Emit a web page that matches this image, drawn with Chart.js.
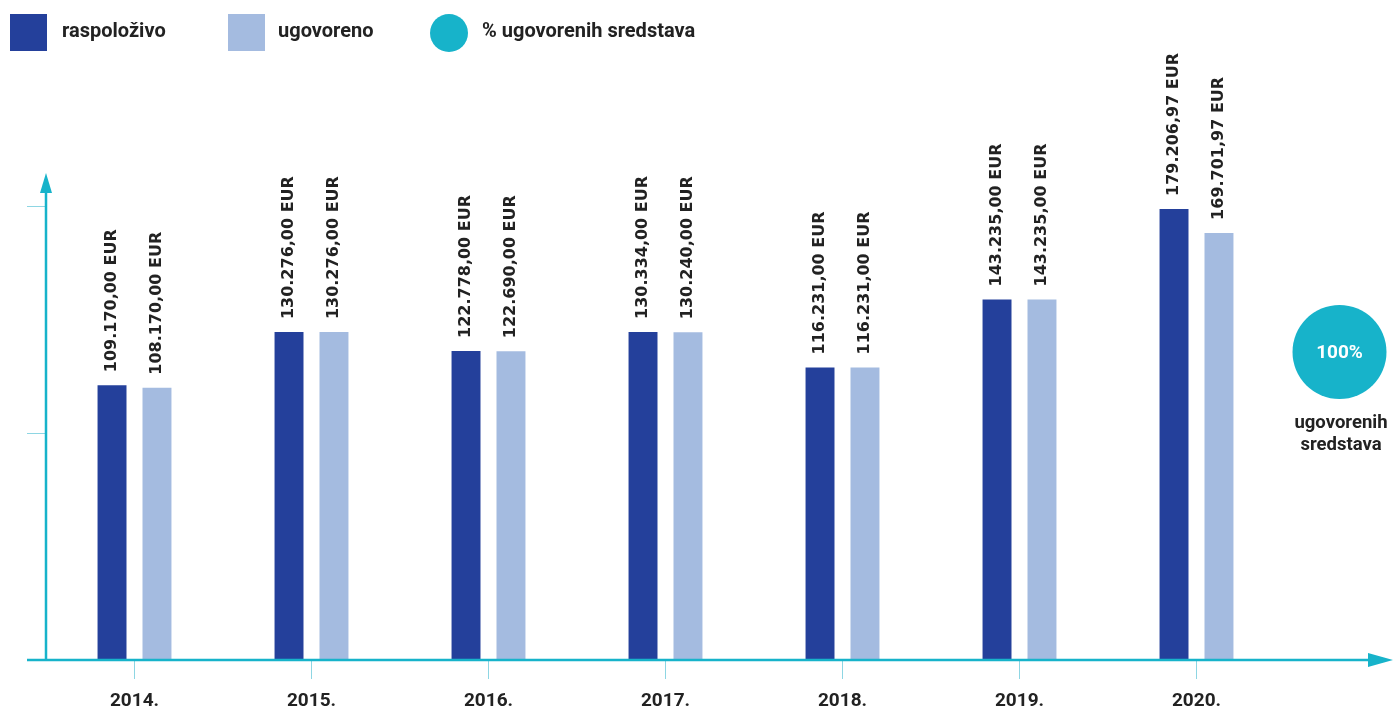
<!DOCTYPE html>
<html><head><meta charset="utf-8">
<script src="https://cdn.jsdelivr.net/npm/chart.js@4.4.0/dist/chart.umd.min.js"></script>
<style>html,body{margin:0;padding:0;background:#fff;}#wrap{width:1393px;height:708px;position:relative}</style>
</head><body><div id="wrap"><canvas id="c" width="1393" height="708"></canvas></div>
<script>
const categories = ['2014.', '2015.', '2016.', '2017.', '2018.', '2019.', '2020.'];
const raspolozivo = [109170, 130276, 122778, 130334, 116231, 143235, 179206.97];
const ugovoreno = [108170, 130276, 122690, 130240, 116231, 143235, 169701.97];
const yTicks = [0, 90000, 180000];
const seriesNames = ['raspoloživo', 'ugovoreno'];
const percentLegend = '% ugovorenih sredstava';
const percentValue = '100%';
const percentCaption = ['ugovorenih', 'sredstava'];

const DARK = '#24409B', LIGHT = '#A4BBE0', TEAL = '#17B3CA', TICK = '#8ED6E3', TXT = '#222222';

function fmt(v) {
  const [i, d] = v.toFixed(2).split('.');
  return i.replace(/\B(?=(\d{3})+(?!\d))/g, '.') + ',' + d + ' EUR';
}

const decor = {
  id: 'decor',
  afterDatasetsDraw(chart) {
    const ctx = chart.ctx, a = chart.chartArea;
    ctx.save();
    // bar value labels
    ctx.fillStyle = TXT;
    ctx.font = 'bold 16px "DejaVu Sans"';
    ctx.textAlign = 'left';
    ctx.textBaseline = 'middle';
    chart.data.datasets.forEach((ds, di) => {
      chart.getDatasetMeta(di).data.forEach((el, i) => {
        ctx.save();
        ctx.translate(el.x, el.y - 13);
        ctx.rotate(-Math.PI / 2);
        ctx.fillText(fmt(ds.data[i]), 0, 0);
        ctx.restore();
      });
    });
    // axes
    ctx.strokeStyle = TEAL; ctx.fillStyle = TEAL; ctx.lineWidth = 2.5;
    ctx.beginPath();
    ctx.moveTo(a.left, a.bottom); ctx.lineTo(a.left, a.top + 15);
    ctx.moveTo(a.left - 19, a.bottom); ctx.lineTo(chart.width - 22, a.bottom);
    ctx.stroke();
    ctx.beginPath();
    ctx.moveTo(a.left, a.top - 2); ctx.lineTo(a.left - 6, a.top + 18); ctx.lineTo(a.left + 6, a.top + 18); ctx.closePath(); ctx.fill();
    ctx.beginPath();
    ctx.moveTo(chart.width, a.bottom); ctx.lineTo(chart.width - 25, a.bottom - 7); ctx.lineTo(chart.width - 25, a.bottom + 7); ctx.closePath(); ctx.fill();
    // legend
    ctx.font = 'bold 20px Roboto';
    ctx.textBaseline = 'middle';
    ctx.textAlign = 'left';
    ctx.fillStyle = DARK; ctx.fillRect(10, 14, 37, 37);
    ctx.fillStyle = LIGHT; ctx.fillRect(228, 14, 37, 37);
    ctx.fillStyle = TEAL; ctx.beginPath(); ctx.arc(449, 33, 19, 0, Math.PI * 2); ctx.fill();
    ctx.fillStyle = TXT;
    ctx.fillText(seriesNames[0], 62, 32);
    ctx.fillText(seriesNames[1], 278, 32);
    ctx.fillText(percentLegend, 482, 32);
    // percent circle
    ctx.fillStyle = TEAL; ctx.beginPath(); ctx.arc(1339.5, 352, 47, 0, Math.PI * 2); ctx.fill();
    ctx.fillStyle = '#ffffff'; ctx.textAlign = 'center';
    ctx.font = 'bold 19px Roboto';
    ctx.fillText(percentValue, 1339.5, 353);
    ctx.fillStyle = TXT;
    ctx.font = 'bold 18.5px Roboto';
    ctx.fillText(percentCaption[0], 1341, 423);
    ctx.fillText(percentCaption[1], 1341, 445);
    ctx.restore();
  }
};

new Chart(document.getElementById('c'), {
  type: 'bar',
  data: {
    labels: categories,
    datasets: [
      { label: seriesNames[0], data: raspolozivo, backgroundColor: DARK, categoryPercentage: 0.508, barPercentage: 0.644 },
      { label: seriesNames[1], data: ugovoreno, backgroundColor: LIGHT, categoryPercentage: 0.508, barPercentage: 0.644 }
    ]
  },
  options: {
    responsive: false, animation: false, devicePixelRatio: 1,
    layout: { padding: { top: 175, right: 108, bottom: 0, left: 0 } },
    plugins: { legend: { display: false }, tooltip: { enabled: false } },
    scales: {
      x: {
        offset: true,
        grid: { offset: false, drawOnChartArea: false, drawTicks: true, tickLength: 19, color: TICK, lineWidth: 1 },
        border: { display: false },
        ticks: { font: { family: 'Roboto', weight: 'bold', size: 19 }, color: TXT, padding: 11, maxRotation: 0 },
        afterFit: s => { s.height = 48; }
      },
      y: {
        min: 0, max: 192700,
        afterBuildTicks: s => { s.ticks = yTicks.map(v => ({ value: v })); },
        ticks: { display: false },
        grid: { drawOnChartArea: false, drawTicks: true, tickLength: 19, color: TICK, lineWidth: 1 },
        border: { display: false },
        afterFit: s => { s.width = 46; }
      }
    }
  },
  plugins: [decor]
});
</script>
</body></html>
